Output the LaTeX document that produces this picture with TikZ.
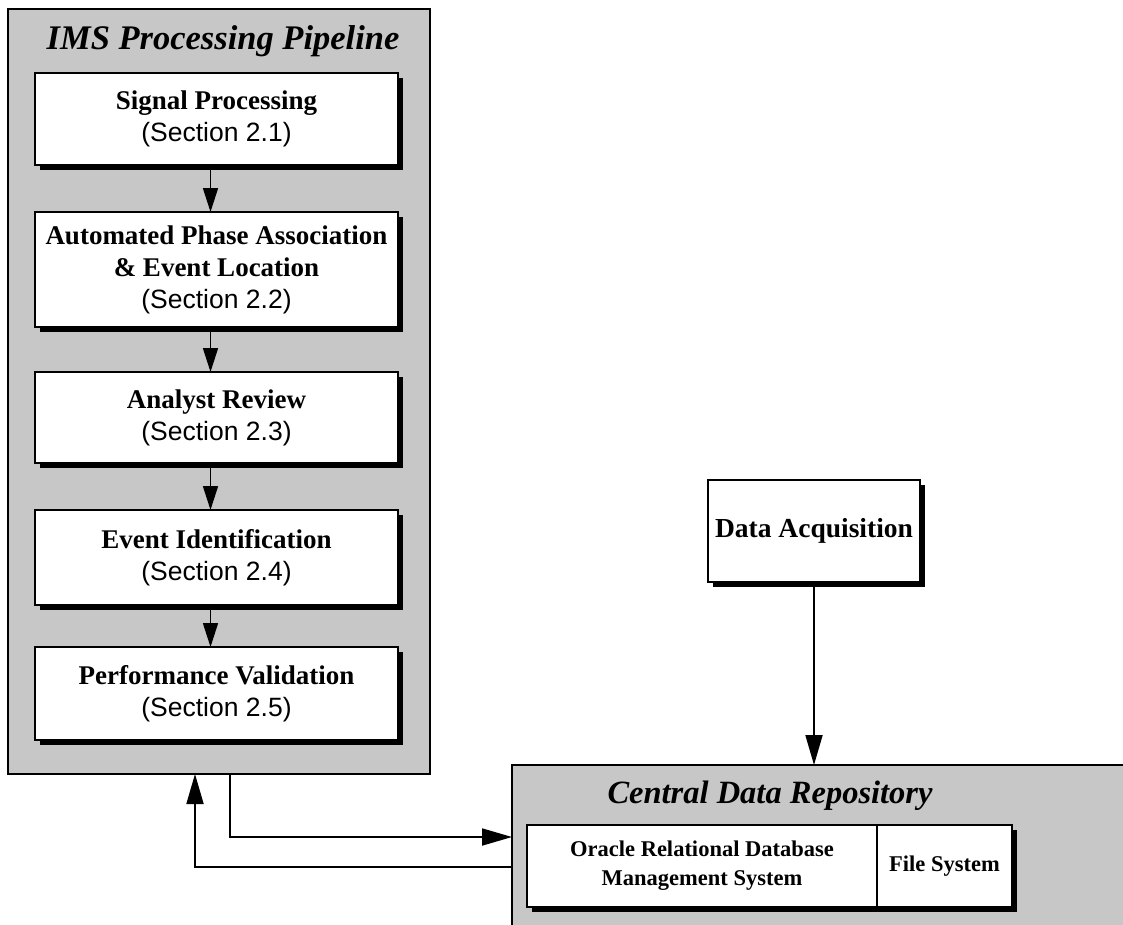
\documentclass[tikz,border=0pt]{standalone}
\usepackage{fontspec}
\setmainfont{Liberation Serif}
\setsansfont{Liberation Sans}
\usepackage{tikz}
\usetikzlibrary{arrows.meta,shadows}
\newcommand{\sectlabel}[1]{{\sffamily\mdseries\fontsize{26.5}{32}\selectfont(Section #1)}}

\begin{document}
\begin{tikzpicture}[x=1pt, y=-1pt,
    panel/.style={draw, line width=1.5pt, fill=black!22, inner sep=0pt, outer sep=0pt},
    stage/.style={draw, line width=2pt, fill=white, inner sep=0pt, outer sep=0pt, align=center,
      font=\bfseries\fontsize{27}{32}\selectfont,
      drop shadow={shadow xshift=5pt, shadow yshift=-5pt, fill=black, opacity=1}},
    heading/.style={anchor=base, font=\bfseries\itshape\fontsize{34.5}{38}\selectfont},
    link/.style={line width=1.6pt, -{Triangle[length=24pt, width=15pt]}},
    flow/.style={line width=1.8pt, -{Triangle[length=30pt, width=17pt]}}]

    \useasboundingbox (0, 0) rectangle (1123, 924);
    \clip (0, 0) rectangle (1123, 924);

    \node [panel, minimum width=422pt, minimum height=765pt] (pipe) at (219, 391.5) {};
    \node [heading] (pipetitle) at (223, 49) {IMS Processing Pipeline};

    \node [stage, minimum width=363pt, minimum height=92pt] (sig) at (216.5, 119)
      {Signal Processing\\\sectlabel{2.1}};
    \node [stage, minimum width=363pt, minimum height=115pt] (assoc) at (216.5, 269.5)
      {Automated Phase Association\\\& Event Location\\\sectlabel{2.2}};
    \node [stage, minimum width=363pt, minimum height=91pt] (review) at (216.5, 417.5)
      {Analyst Review\\\sectlabel{2.3}};
    \node [stage, minimum width=363pt, minimum height=95pt] (ident) at (216.5, 557.5)
      {Event Identification\\\sectlabel{2.4}};
    \node [stage, minimum width=363pt, minimum height=93pt] (valid) at (216.5, 693.5)
      {Performance Validation\\\sectlabel{2.5}};

    \draw [link] ([xshift=-6pt]sig.south) -- ([xshift=-6pt]assoc.north);
    \draw [link] ([xshift=-6pt]assoc.south) -- ([xshift=-6pt]review.north);
    \draw [link] ([xshift=-6pt]review.south) -- ([xshift=-6pt]ident.north);
    \draw [link] ([xshift=-6pt]ident.south) -- ([xshift=-6pt]valid.north);

    \node [stage, minimum width=212pt, minimum height=102pt, font=\bfseries\fontsize{27.5}{32}\selectfont] (acq) at (814, 531) {Data Acquisition};

    \node [panel, minimum width=628pt, minimum height=180pt] (repo) at (826, 855) {};
    \node [heading, font=\bfseries\itshape\fontsize{32.5}{36}\selectfont] (repotitle) at (770, 803) {Central Data Repository};
    \node [stage, minimum width=350pt, minimum height=82pt, font=\bfseries\fontsize{22.5}{29}\selectfont] (oracle) at (702, 866)
      {Oracle Relational Database\\Management System};
    \node [stage, minimum width=135pt, minimum height=82pt, font=\bfseries\fontsize{22.5}{29}\selectfont] (files) at (944.5, 866)
      {File System};

    \draw [flow] (acq.south) -- (repo.north -| acq.south);

    \coordinate (outlevel) at (0, 837);
    \coordinate (backlevel) at (0, 867);
    \draw [flow] ([xshift=11pt]pipe.south) |- (repo.west |- outlevel);
    \draw [flow] (repo.west |- backlevel) -| ([xshift=-24pt]pipe.south);
\end{tikzpicture}
\end{document}
